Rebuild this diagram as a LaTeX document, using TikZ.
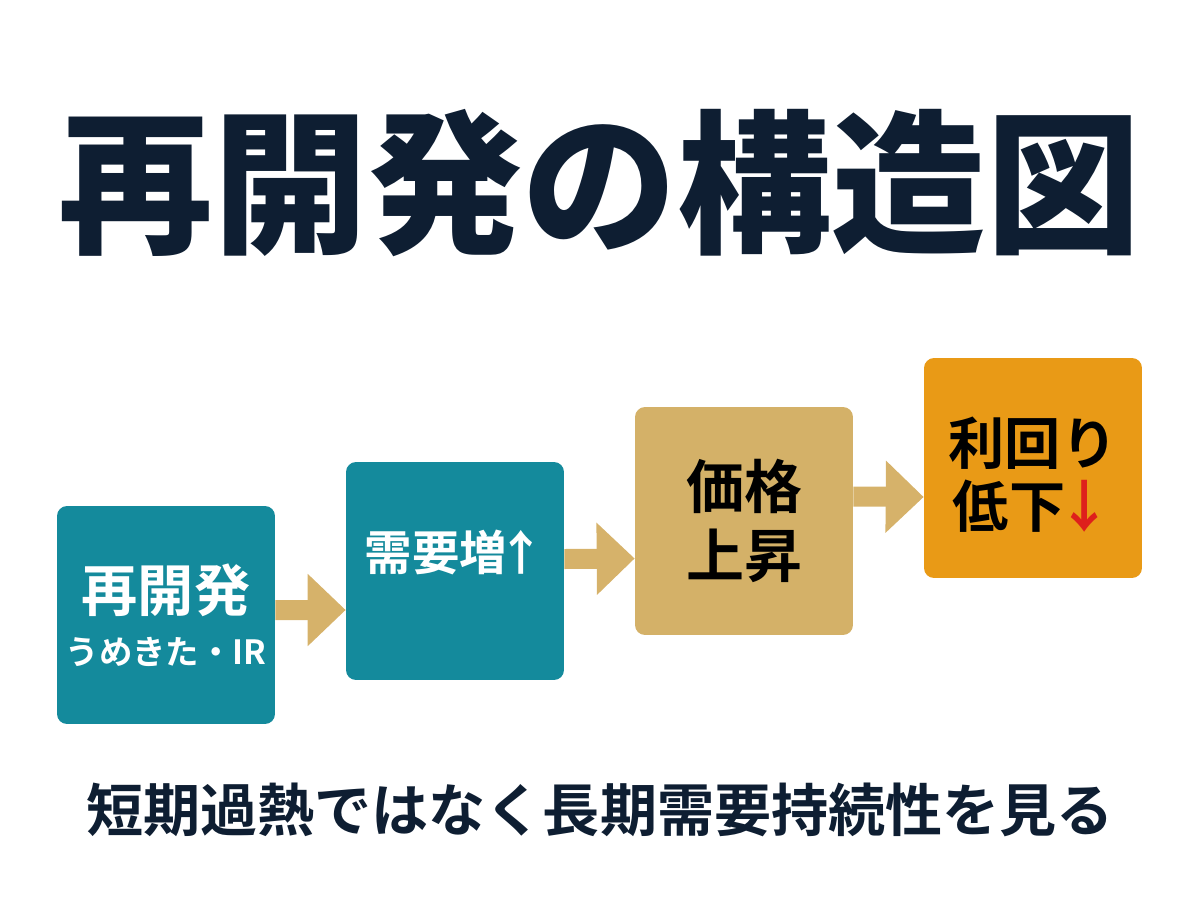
\documentclass[tikz,border=0pt]{standalone}
\usepackage{fontspec}
\usetikzlibrary{positioning,arrows.meta}
\newfontfamily\jpfont{Noto Sans CJK JP}[BoldFont={Noto Sans CJK JP Bold}]
\newfontfamily\jpblack{Noto Sans CJK JP Black}
\definecolor{titlenavy}{RGB}{14,30,50}
\definecolor{boxteal}{RGB}{20,138,156}
\definecolor{boxtan}{RGB}{212,177,104}
\definecolor{boxorange}{RGB}{233,154,22}
\definecolor{flowtan}{RGB}{214,178,106}
\definecolor{downred}{RGB}{222,32,28}
\tikzset{
  card/.style={rounded corners=0.2cm, minimum width=4.36cm, minimum height=4.36cm, inner sep=0pt},
  flow/.style={draw=flowtan, line width=0.4cm, -{Triangle[length=0.76cm,width=1.4cm]}},
  big/.style={font=\jpfont\bfseries\fontsize{32}{36}\selectfont},
}
\begin{document}
\begin{tikzpicture}[x=0.02cm,y=-0.02cm]
\useasboundingbox (0,0) rectangle (1200,896);
\node[font=\jpblack\fontsize{88}{92}\selectfont, text=titlenavy] (title) at (600,183) {再開発の構造図};
% the four steps
\node[card, fill=boxteal] (redev) at (166,615) {};
\node[card, fill=boxteal] (demand) at (455,571) {};
\node[card, fill=boxtan, minimum height=4.56cm] (price) at (744,521) {};
\node[card, fill=boxorange, minimum height=4.4cm] (yield) at (1033,468) {};
\node[big, text=white] (redevA) at ([yshift=0.5cm]redev.center) {再開発};
\node[font=\jpfont\bfseries\fontsize{19}{22}\selectfont, text=white] (redevB) at ([yshift=-0.74cm]redev.center) {うめきた・IR};
\node[font=\jpfont\bfseries\fontsize{27}{30}\selectfont, text=white] (demandT) at ([yshift=0.38cm]demand.center) {需要増\kern-0.2em↑};
\node[big, text=black, align=center, font=\jpfont\bfseries\fontsize{33}{39}\selectfont] (priceT) at (price.center) {価格\\上昇};
\node[big, text=black, align=center, font=\jpfont\bfseries\fontsize{32}{36}\selectfont] (yieldT) at ([yshift=-0.14cm]yield.center) {利回り\\低下\kern-0.15em\textcolor{downred}{↓}};
% block arrows
\draw[flow] ([yshift=0.1cm]redev.east) -- ([yshift=-0.78cm]demand.west);
\draw[flow] ([yshift=0.24cm]demand.east) -- ([yshift=-0.75cm]price.west);
\draw[flow] ([yshift=0.49cm]price.east) -- ([yshift=-0.58cm]yield.west);
\node[big, text=titlenavy, font=\jpfont\bfseries\fontsize{32.5}{36}\selectfont] (note) at (600,810) {短期過熱ではなく長期需要持続性を見る};
\end{tikzpicture}
\end{document}
